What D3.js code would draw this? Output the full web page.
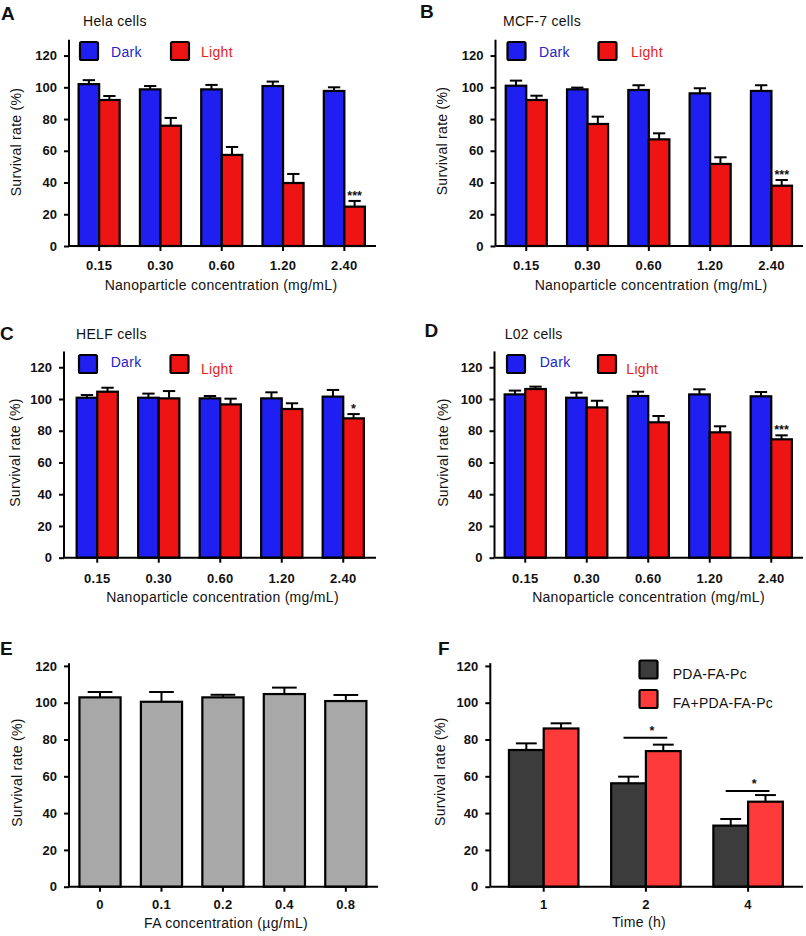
<!DOCTYPE html>
<html><head><meta charset="utf-8">
<script src="https://cdn.jsdelivr.net/npm/d3@7/dist/d3.min.js"></script>
<style>
body{margin:0;background:#fff;}
svg text{font-family:"Liberation Sans",Arial,Helvetica,sans-serif;fill:#111;}
</style></head>
<body><svg id="c" width="806" height="936"></svg>
<script>
// ---------- data ----------
const concLabels = ["0.15","0.30","0.60","1.20","2.40"];
const seriesNames = ["Dark","Light"];

const helaDark = [102, 98.7, 98.7, 100.8, 97.7];
const helaDarkErr = [2.5, 2.1, 2.8, 2.8, 2.3];
const helaLight = [92, 75.8, 57.4, 39.7, 24.8];
const helaLightErr = [2.5, 4.9, 5.0, 5.7, 3.6];

const mcfDark = [101, 98.7, 98.3, 96.2, 97.7];
const mcfDarkErr = [3.2, 1.1, 3.0, 3.2, 3.6];
const mcfLight = [92, 76.9, 67.2, 51.7, 38];
const mcfLightErr = [2.7, 4.6, 3.8, 4.2, 3.6];

const helfDark = [100.8, 100.8, 100.4, 100.4, 101.5];
const helfDarkErr = [1.7, 2.6, 1.5, 3.8, 4.2];
const helfLight = [104.6, 100.4, 96.6, 93.7, 87.8];
const helfLightErr = [2.5, 4.6, 3.6, 3.6, 2.7];

const l02Dark = [102.9, 100.8, 101.9, 102.9, 101.7];
const l02DarkErr = [2.4, 3.2, 2.7, 3.2, 2.7];
const l02Light = [106.3, 94.7, 85.3, 79, 74.6];
const l02LightErr = [1.5, 4.2, 4.0, 3.8, 2.5];

const sigHela = ["","","","","***"];
const sigMcf = ["","","","","***"];
const sigHelf = ["","","","","*"];
const sigL02 = ["","","","","***"];

const faLabels = ["0","0.1","0.2","0.4","0.8"];
const faValues = [102.9, 100.5, 102.9, 104.7, 100.9];
const faErr = [2.9, 5.3, 1.4, 3.5, 3.3];

const timeLabels = ["1","2","4"];
const fSeriesNames = ["PDA-FA-Pc","FA+PDA-FA-Pc"];
const pdaValues = [74.3, 56.2, 33.2];
const pdaErr = [3.6, 3.6, 3.6];
const faPdaValues = [86, 73.7, 46.2];
const faPdaErr = [2.8, 3.5, 3.6];
const fSigLabels = ["","*","*"];
const fSigLineY = [null, 81, 52];

const yTicks = [0,20,40,60,80,100,120];

// ---------- drawing ----------
const svg = d3.select("#c");
const BLUE = "#1f1ff2", RED = "#ee1414", GRAY = "#a8a8a8", DGRAY = "#3c3c3c", LRED = "#ff3a3a";
const FONT = "'Liberation Sans',Arial,sans-serif";

function panel(p){
  const g = svg.append("g");
  const y = d3.scaleLinear().domain([0, p.yMax]).range([p.y0, p.y0 - p.yMax*p.k]);
  const x = d3.scaleBand().domain(p.cats).range([p.bx0, p.bx0 + p.cats.length*p.step])
              .paddingInner(p.pad).paddingOuter(p.pad/2);
  const xs = d3.scaleBand().domain(d3.range(p.series.length)).range([0, x.bandwidth()]);

  p.series.forEach((s, si) => {
    const bw = xs.bandwidth();
    const gg = g.append("g");
    gg.selectAll("line.e").data(s.values).enter().append("line")
      .attr("x1",(d,i)=>x(p.cats[i])+xs(si)+bw/2).attr("x2",(d,i)=>x(p.cats[i])+xs(si)+bw/2)
      .attr("y1",d=>y(d)).attr("y2",(d,i)=>y(d+s.err[i]))
      .attr("stroke","#000").attr("stroke-width",2);
    gg.selectAll("line.c").data(s.values).enter().append("line")
      .attr("x1",(d,i)=>x(p.cats[i])+xs(si)+bw*0.2).attr("x2",(d,i)=>x(p.cats[i])+xs(si)+bw*0.8)
      .attr("y1",(d,i)=>y(d+s.err[i])).attr("y2",(d,i)=>y(d+s.err[i]))
      .attr("stroke","#000").attr("stroke-width",2);
    gg.selectAll("rect").data(s.values).enter().append("rect")
      .attr("x",(d,i)=>x(p.cats[i])+xs(si)).attr("y",d=>y(d))
      .attr("width",bw).attr("height",d=>y(0)-y(d))
      .attr("fill",s.color).attr("stroke","#000").attr("stroke-width",2.2);
    if (s.sig){
      gg.selectAll("text.s").data(s.values).enter().append("text")
        .attr("x",(d,i)=>x(p.cats[i])+xs(si)+bw/2)
        .attr("y",(d,i)=>y(d+s.err[i])-1)
        .attr("text-anchor","middle").style("font-size","12.5px").style("font-weight","bold")
        .text((d,i)=>s.sig[i]);
    }
  });

  const ya = d3.axisLeft(y).tickValues(yTicks).tickSize(5).tickPadding(7).tickSizeOuter(0);
  const yg = g.append("g").attr("transform",`translate(${p.axisX},0)`).call(ya);
  yg.select(".domain").attr("stroke","#000").attr("stroke-width",2)
    .attr("d",`M0,${p.y0}V${p.y0 - p.yMax*p.k - (p.extra||0)}`);
  yg.selectAll(".tick line").attr("stroke","#000").attr("stroke-width",2);
  yg.selectAll(".tick text").style("font-size","13px").style("font-weight","bold")
    .style("font-family",FONT).attr("fill","#111");

  const xa = d3.axisBottom(x).tickSize(5).tickPadding(p.xPad).tickSizeOuter(0);
  const xg = g.append("g").attr("transform",`translate(0,${p.y0})`).call(xa);
  xg.select(".domain").attr("stroke","#000").attr("stroke-width",2)
    .attr("d",`M${p.axisX},0H${p.xEnd}`);
  xg.selectAll(".tick line").attr("stroke","#000").attr("stroke-width",2);
  xg.selectAll(".tick text").style("font-size","13px").style("font-weight","bold")
    .style("letter-spacing","0.3px")
    .style("font-family",FONT).attr("fill","#111");

  g.append("text").attr("transform",`translate(${p.yTitle[0]},${p.yTitle[1]}) rotate(-90)`)
    .attr("text-anchor","middle").style("font-size","14px").style("letter-spacing","0.3px")
    .text("Survival rate (%)");
  g.append("text").attr("x",p.xTitle[0]).attr("y",p.xTitle[1]).attr("text-anchor","middle")
    .style("font-size","14px").style("letter-spacing","0.3px").text(p.xTitleText);
  g.append("text").attr("x",p.letter[0]).attr("y",p.letter[1])
    .style("font-size","19px").style("font-weight","bold").text(p.letterText);
  if (p.title){
    g.append("text").attr("x",p.title[0]).attr("y",p.title[1])
      .style("font-size","14px").style("letter-spacing","0.3px").text(p.titleText);
  }
  return {g, x, xs, y};
}

function darkLightLegend(g, L){
  [[BLUE,"#2323c8",seriesNames[0]],[RED,"#e81c1c",seriesNames[1]]].forEach((c,i)=>{
    g.append("rect").attr("x",L.sq[i][0]).attr("y",L.sq[i][1]).attr("width",18).attr("height",18)
      .attr("fill",c[0]).attr("stroke","#000").attr("stroke-width",2.2).attr("rx",1.5);
    g.append("text").attr("x",L.tx[i][0]).attr("y",L.tx[i][1])
      .style("font-size","14px").style("letter-spacing","0.3px")
      .style("fill",c[1]).text(c[2]);
  });
}

const common = {cats: concLabels, yMax: 130, k: 1.587, pad: 0.33,
  xTitleText: "Nanoparticle concentration (mg/mL)"};

const A = panel(Object.assign({}, common, {
  series:[{values:helaDark, err:helaDarkErr, color:BLUE},{values:helaLight, err:helaLightErr, color:RED, sig:sigHela}],
  axisX:69, y0:246, bx0:68.5, step:61.3, xEnd:376, xPad:9.5,
  yTitle:[21,142], xTitle:[221,290], letter:[1,20], letterText:"A", title:[83,26], titleText:"Hela cells"}));
darkLightLegend(A.g, {sq:[[80,42],[171,42]], tx:[[111,57],[201,57]]});

const B = panel(Object.assign({}, common, {
  series:[{values:mcfDark, err:mcfDarkErr, color:BLUE},{values:mcfLight, err:mcfLightErr, color:RED, sig:sigMcf}],
  axisX:495.5, y0:246, bx0:495.6, step:61.3, xEnd:803, xPad:9.5,
  yTitle:[447,141], xTitle:[651,290], letter:[420,18], letterText:"B", title:[503,26], titleText:"MCF-7 cells"}));
darkLightLegend(B.g, {sq:[[507.5,42],[598.5,42]], tx:[[539,57],[631,57]]});

const C = panel(Object.assign({}, common, {
  series:[{values:helfDark, err:helfDarkErr, color:BLUE},{values:helfLight, err:helfLightErr, color:RED, sig:sigHelf}],
  axisX:64, y0:557.7, bx0:66.5, step:61.5, xEnd:376, xPad:11,
  yTitle:[19.5,452.5], xTitle:[222.5,601.5], letter:[0,340], letterText:"C", title:[76,339], titleText:"HELF cells"}));
darkLightLegend(C.g, {sq:[[79,355],[170.5,355]], tx:[[110.7,366.7],[201,374]]});

const D = panel(Object.assign({}, common, {
  series:[{values:l02Dark, err:l02DarkErr, color:BLUE},{values:l02Light, err:l02LightErr, color:RED, sig:sigL02}],
  axisX:494.5, y0:557.7, bx0:494.5, step:61.5, xEnd:803, xPad:11,
  yTitle:[448,452.5], xTitle:[648.5,601.5], letter:[424.5,337], letterText:"D", title:[504.7,339], titleText:"L02 cells"}));
darkLightLegend(D.g, {sq:[[507,355],[598,355]], tx:[[539.7,366.7],[626.3,374]]});

const E = panel({cats: faLabels, yMax: 121.5, k: 1.84, pad: 0.33,
  series:[{values:faValues, err:faErr, color:GRAY}],
  axisX:69, y0:886.7, bx0:69.3, step:61.45, xEnd:378, xPad:8.5,
  yTitle:[22,772.5], xTitle:[226,928], xTitleText:"FA concentration (\u00b5g/mL)",
  letter:[0,655], letterText:"E"});

const F = panel({cats: timeLabels, yMax: 121.5, k: 1.84, pad: 0.32,
  series:[{values:pdaValues, err:pdaErr, color:DGRAY},{values:faPdaValues, err:faPdaErr, color:LRED}],
  axisX:490.3, y0:886.7, bx0:492.6, step:102.2, xEnd:803, xPad:8,
  yTitle:[445,771.7], xTitle:[639,926.5], xTitleText:"Time (h)",
  letter:[438,655], letterText:"F"});

timeLabels.forEach((t,i)=>{
  if (!fSigLabels[i]) return;
  const bw = F.xs.bandwidth();
  const x1 = F.x(t) + F.xs(0) + bw/2 - 5, x2 = F.x(t) + F.xs(1) + bw/2 + 4;
  const yy = F.y(fSigLineY[i]);
  F.g.append("line").attr("x1",x1).attr("x2",x2).attr("y1",yy).attr("y2",yy)
    .attr("stroke","#000").attr("stroke-width",2);
  F.g.append("text").attr("x",F.x(t)+F.x.bandwidth()/2+6).attr("y",yy-3)
    .attr("text-anchor","middle").style("font-size","12.5px").style("font-weight","bold").text(fSigLabels[i]);
});
[[DGRAY,fSeriesNames[0],660.5,679],[LRED,fSeriesNames[1],690,708]].forEach(c=>{
  F.g.append("rect").attr("x",639.5).attr("y",c[2]).attr("width",18).attr("height",18)
    .attr("fill",c[0]).attr("stroke","#000").attr("stroke-width",2.2).attr("rx",1.5);
  F.g.append("text").attr("x",672.7).attr("y",c[3]).style("font-size","14px")
    .style("letter-spacing","0.3px").text(c[1]);
});
</script></body></html>
